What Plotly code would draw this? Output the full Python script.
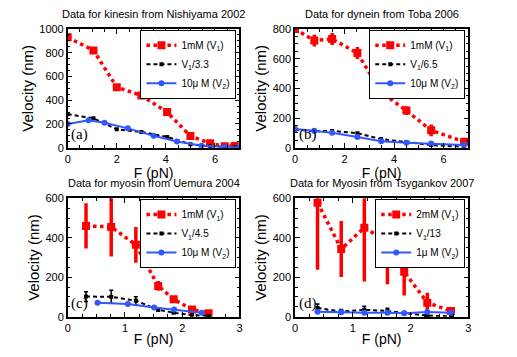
import plotly.graph_objects as go

# panel (a) kinesin, Nishiyama 2002
a_f1 = [0, 1.05, 2, 3, 4.05, 5, 5.8, 6.4, 6.8]
a_v1 = [930, 820, 510, 440, 300, 98, 37, 12, 15]
a_v1s = [282, 248, 155, 133, 91, 30, 11, 4, 5]
a_f2 = [0, 0.85, 1.5, 2.45, 3.5, 4.45, 5.45, 6.4, 7]
a_v2 = [200, 232, 210, 163, 100, 52, 17, 5, 3]

# panel (b) dynein, Toba 2006
b_f = [0, 0.78, 1.5, 2.52, 3.48, 4.5, 5.5, 6.83]
b_v1 = [800, 722, 733, 638, 374, 250, 117, 40]
b_e1 = [0, 40, 40, 40, 30, 30, 40, 20]
b_v1s = [123, 111, 113, 98, 58, 38, 18, 6]
b_v2 = [126, 115, 101, 72, 43, 34, 29, 18]

# panel (c) myosin, Uemura 2004
c_f1 = [0.32, 0.76, 1.19, 1.58, 1.85, 2.17, 2.46]
c_v1 = [460, 455, 364, 156, 88, 37, 17]
c_e1 = [115, 150, 90, 25, 15, 5, 3]
c_v1s = [102, 101, 81, 35, 20, 8, 4]
c_e1s = [25, 33, 20, 6, 3, 1, 1]
c_f2 = [0.52, 1.05, 1.51, 1.86, 2.34]
c_v2 = [71, 64, 46, 36, 20]

# panel (d) Myosin, Tsygankov 2007
d_f = [0.39, 0.8, 1.2, 1.6, 1.89, 2.29, 2.7]
d_v1 = [578, 343, 451, 380, 228, 71, 29]
d_e1 = [340, 142, 273, 215, 120, 50, 20]
d_v1s = [44, 26, 35, 29, 18, 5, 2]
d_e1s = [20, 10, 18, 14, 8, 4, 2]
d_v2 = [25, 22, 20, 20, 18, 24, 20]

titles = ["Data for kinesin from Nishiyama 2002", "Data for dynein from Toba 2006",
          "Data for myosin from Uemura 2004", "Data for Myosin from Tsygankov 2007"]
labels = ["(a)", "(b)", "(c)", "(d)"]
names1 = ["1mM (V<sub>1</sub>)", "1mM (V<sub>1</sub>)", "1mM (V<sub>1</sub>)", "2mM (V<sub>1</sub>)"]
names_s = ["V<sub>1</sub>/3.3", "V<sub>1</sub>/6.5", "V<sub>1</sub>/4.5", "V<sub>1</sub>/13"]
names2 = ["10\u03bc M (V<sub>2</sub>)", "10\u03bc M (V<sub>2</sub>)", "10\u03bc M (V<sub>2</sub>)", "1\u03bc M (V<sub>2</sub>)"]

RED = "#ff0000"
BLUE = "#3158ff"
FONT = "Liberation Sans, Arial, sans-serif"

panels = [
    (a_f1, a_v1, None, a_f1, a_v1s, None, a_f2, a_v2),
    (b_f, b_v1, b_e1, b_f, b_v1s, None, b_f, b_v2),
    (c_f1, c_v1, c_e1, c_f1, c_v1s, c_e1s, c_f2, c_v2),
    (d_f, d_v1, d_e1, d_f, d_v1s, d_e1s, d_f, d_v2),
]

fig = go.Figure()
for i, (f1, v1, e1, fs, vs, es, f2, v2) in enumerate(panels):
    n = "" if i == 0 else str(i + 1)
    lg = "legend" + n
    fig.add_trace(go.Scatter(
        x=f1, y=v1, name=names1[i], mode="lines+markers", xaxis="x" + n, yaxis="y" + n, legend=lg,
        line=dict(color=RED, width=3.5, dash="dot"), marker=dict(symbol="square", size=8, color=RED),
        error_y=dict(type="data", array=e1, color=RED, thickness=3.5, width=0) if e1 else None))
    fig.add_trace(go.Scatter(
        x=fs, y=vs, name=names_s[i], mode="lines+markers", xaxis="x" + n, yaxis="y" + n, legend=lg,
        line=dict(color="black", width=2, dash="4px,3px"), marker=dict(symbol="square", size=4, color="black"),
        error_y=dict(type="data", array=es, color="black", thickness=1.5, width=2) if es else None))
    fig.add_trace(go.Scatter(
        x=f2, y=v2, name=names2[i], mode="lines+markers", xaxis="x" + n, yaxis="y" + n, legend=lg,
        line=dict(color=BLUE, width=2), marker=dict(symbol="circle", size=6, color=BLUE)))

# the page body adds an 8px offset, so the figure is 509x349 starting at (8, 8)
xdom = [[0.1173, 0.4548], [0.5639, 0.9043]]
ydom = [[0.5997, 0.9398], [0.1155, 0.4547]]
xr = [[0, 7], [0, 7], [0, 3], [0, 3]]
yr = [[0, 1000], [0, 800], [0, 600], [0, 600]]
xd = [2, 2, 1, 1]
yd = [200, 200, 200, 200]

layout = dict(
    width=509, height=349, margin=dict(l=0, r=0, t=0, b=0),
    plot_bgcolor="white", paper_bgcolor="white",
    font=dict(family=FONT, color="black", size=11),
)
annotations = []
for i in range(4):
    n = "" if i == 0 else str(i + 1)
    xdo = xdom[i % 2]
    ydo = ydom[i // 2]
    axis = dict(showline=True, linecolor="black", linewidth=1.5, mirror="allticks",
                ticks="inside", ticklen=5, tickcolor="black", showgrid=False, zeroline=False,
                tickfont=dict(size=11), automargin=False)
    layout["xaxis" + n] = dict(axis, domain=xdo, range=xr[i], dtick=xd[i], anchor="y" + n,
                               minor=dict(ticks="inside", ticklen=3, dtick=xd[i] / 4, tickcolor="black"),
                               title=dict(text="F (pN)", font=dict(size=14), standoff=2))
    layout["yaxis" + n] = dict(axis, domain=ydo, range=yr[i], dtick=yd[i], anchor="x" + n,
                               minor=dict(ticks="inside", ticklen=3, dtick=yd[i] / 4, tickcolor="black"),
                               title=dict(text="Velocity (nm)", font=dict(size=15), standoff=2))
    layout["legend" + n] = dict(x=xdo[1] - 0.006, y=ydo[1] - 0.002, xanchor="right", yanchor="top",
                                bordercolor="black", borderwidth=1, bgcolor="white",
                                font=dict(size=10), itemwidth=30, tracegroupgap=0)
    annotations.append(dict(text=titles[i], x=(xdo[0] + xdo[1]) / 2, y=ydo[1] + 0.043,
                            xref="paper", yref="paper", showarrow=False, font=dict(size=11),
                            xanchor="center", yanchor="middle"))
    annotations.append(dict(text=labels[i], x=0.01, y=0.11, xref="x" + n + " domain",
                            yref="y" + n + " domain", showarrow=False, xanchor="left", yanchor="middle",
                            font=dict(family="Liberation Serif, Times New Roman, serif", size=15)))
layout["annotations"] = annotations
fig.update_layout(layout)

fig.write_html("out.html")
